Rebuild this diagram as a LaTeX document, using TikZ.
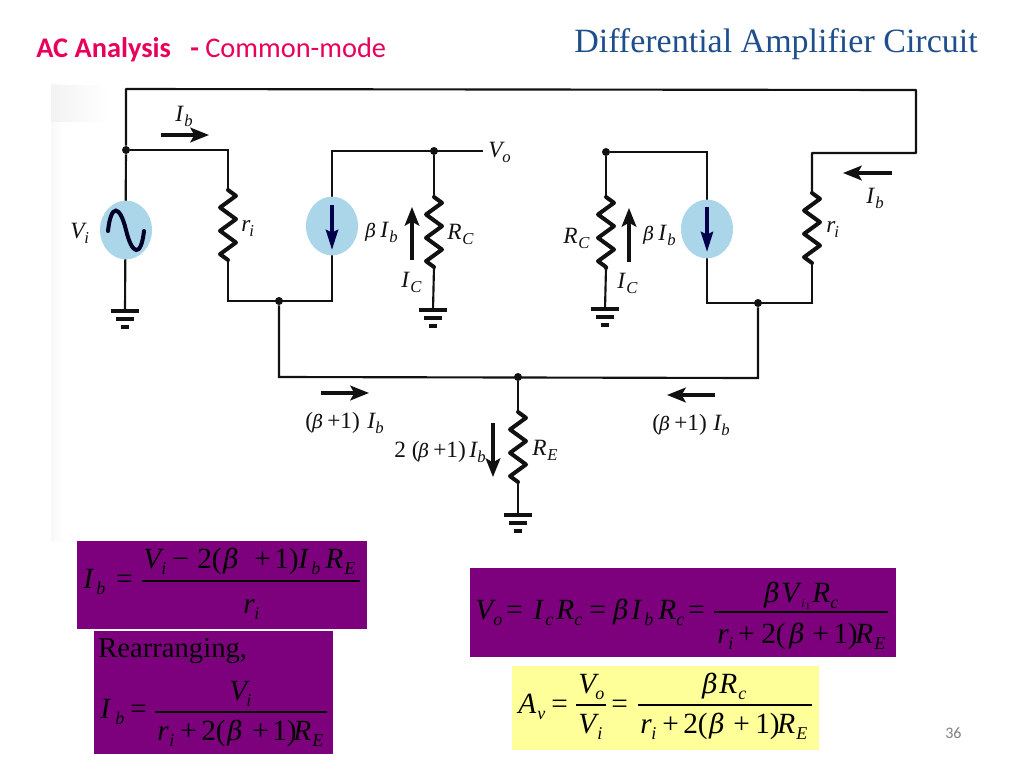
\documentclass[tikz,border=0pt]{standalone}
\usepackage{fontspec}
\setmainfont{Liberation Serif}
\newfontfamily\carl{Carlito}
\newfontfamily\betaf{DejaVu Serif}
\usetikzlibrary{arrows.meta,shapes.geometric,decorations.pathmorphing,calc}
\definecolor{purp}{HTML}{7D007D}
\definecolor{yel}{HTML}{FFFF99}
\definecolor{ink}{HTML}{111111}
\definecolor{srcblue}{HTML}{ABD6EA}
\definecolor{ttl}{HTML}{1F4E8C}
\definecolor{pinktxt}{HTML}{E8005A}
\newcounter{tn}
\newcommand{\T}[4]{\stepcounter{tn}\node[txt,font={\fontsize{#1}{#1}\selectfont}] (t\thetn) at (#2,#3) {#4};}
\newcommand{\TK}[4]{\stepcounter{tn}\node[txt,text=black,font={\fontsize{#1}{#1}\selectfont}] (t\thetn) at (#2,#3) {#4};}
\newcommand{\B}[3]{\TK{22}{#1}{#2}{#3}}
\newcommand{\BI}[3]{\TK{22}{#1}{#2}{\itshape #3}}
\newcommand{\Bb}[2]{\TK{20}{#1}{#2}{\betaf\itshape β}}
\newcommand{\Sb}[3]{\TK{13.5}{#1}{#2}{\itshape #3}}
\newcommand{\C}[3]{\T{17.5}{#1}{#2}{\itshape #3}}
\newcommand{\CB}[2]{\T{14}{#1}{#2}{\betaf\itshape β}}
\newcommand{\CS}[3]{\T{12.5}{#1}{#2}{\itshape #3}}
\newcommand{\CU}[3]{\T{17.5}{#1}{#2}{#3}}
\newcommand{\gnd}[1]{%
 \draw[gbar] ($(#1)+(-14,0)$) -- ($(#1)+(14,0)$);
 \draw[gbar] ($(#1)+(-9,8)$) -- ($(#1)+(9,8)$);
 \draw[gbar] ($(#1)+(-4,16)$) -- ($(#1)+(4,16)$);}
\tikzset{
 x=0.75pt,y=-0.75pt,
 txt/.style={anchor=base west,inner sep=0pt,text=ink},
 wire/.style={draw=ink,line width=1.6pt},
 gbar/.style={draw=ink,line width=2.6pt},
 resist/.style={draw=ink,line width=3pt,line join=round,line cap=round,decorate,
   decoration={zigzag,segment length=17.5pt,amplitude=6pt}},
 dotn/.style={circle,fill=ink,inner sep=0pt,minimum size=6pt},
 src/.style={ellipse,fill=srcblue,inner sep=0pt,minimum width=39pt,minimum height=44pt},
 curr/.style={draw=ink,line width=2.4pt,-{Stealth[length=14pt,width=11pt,inset=3pt]}},
 srcarr/.style={draw=black!70!blue,line width=3pt,-{Stealth[length=15pt,width=9pt,inset=2pt]}},
 fr/.style={draw=black,line width=0.9pt},
 purpbox/.style={fill=purp},
 yelbox/.style={fill=yel},
}
\begin{document}
\begin{tikzpicture}
\useasboundingbox (0,0) rectangle (1024,768);
\fill[white] (0,0) rectangle (1024,768);
% faint scan background
\shade[left color=black!2.5,right color=white] (51,83) rectangle (64,541);
\shade[left color=black!5,right color=white] (51,85) rectangle (108,121);
% title
\node[anchor=base west,inner sep=0pt,text=ttl,font={\fontsize{25.5}{28}\selectfont}] (title) at (574,52) {Differential Amplifier Circuit};
\node[anchor=base west,inner sep=0pt,text=pinktxt,font={\carl\fontsize{21.3}{24}\selectfont}] (sub) at (36,57) {\textbf{AC Analysis\ \ \ -} Common-mode};
\node[anchor=base west,inner sep=0pt,text=black!50,font={\carl\fontsize{12}{14}\selectfont}] (pg) at (945,738) {36};
% coordinates
\coordinate (tl) at (126,89);
\coordinate (tr) at (916,90);
\coordinate (rr) at (916,153);
\coordinate (rt) at (812,153);
\node[dotn] (d1) at (126,150) {};
\coordinate (r1t) at (228,150);
\coordinate (r1a) at (228,190);
\coordinate (r1b) at (228,260);
\coordinate (r1e) at (228,301);
\node[dotn] (d2) at (279,301) {};
\coordinate (s1b) at (332,301);
\coordinate (s1t) at (332,151);
\node[dotn] (d3) at (434,151) {};
\coordinate (vo) at (483,151);
\coordinate (rc1a) at (434,197);
\coordinate (rc1b) at (434,267);
\coordinate (g2) at (433,310);
\coordinate (g1) at (125,311);
\node[dotn] (d4) at (606,152) {};
\coordinate (rc2a) at (606,197);
\coordinate (rc2b) at (606,268);
\coordinate (g3) at (605,309);
\coordinate (s2t) at (707,152);
\coordinate (s2b) at (707,303);
\coordinate (r2a) at (812,193);
\coordinate (r2b) at (812,263);
\coordinate (r2e) at (812,303);
\node[dotn] (d5) at (758,303) {};
\node[dotn] (d6) at (518,377) {};
\coordinate (bl) at (279,377);
\coordinate (br) at (758,378);
\coordinate (rea) at (518,412);
\coordinate (reb) at (518,482);
\coordinate (g4) at (518,515);
% wires
\draw[wire,line join=round] (d1) -- (tl) -- (tr) -- (rr) -- (rt) -- (r2a);
\draw[wire] (d1) -- (r1t) -- (r1a);
\draw[wire] (r1b) -- (r1e) -- (s1b) -- (s1t) -- (vo);
\draw[wire] (d3) -- (rc1a);
\draw[wire] (rc1b) -- (g2);
\draw[wire] (d4) -- (rc2a);
\draw[wire] (rc2b) -- (g3);
\draw[wire] (d4) -- (s2t) -- (s2b) -- (r2e) -- (r2b);
\draw[wire] (d2) -- (bl) -- (br) -- (d5);
\draw[wire] (d6) -- (rea);
\draw[wire] (reb) -- (g4);
\draw[wire] (d1) -- (g1);
% resistors
\draw[resist] (r1a) -- (r1b);
\draw[resist] (rc1a) -- (rc1b);
\draw[resist] (rc2a) -- (rc2b);
\draw[resist] (r2a) -- (r2b);
\draw[resist] (rea) -- (reb);
% grounds
\gnd{g1}\gnd{g2}\gnd{g3}\gnd{g4}
% sources
\node[src] (vi) at (126,230) {};
\node[src] (s1) at (332,226) {};
\node[src] (s2) at (707,229) {};
\coordinate (s1at) at (332,205);
\coordinate (s1ab) at (332,250);
\coordinate (s2at) at (707,207);
\coordinate (s2ab) at (707,252);
\draw[srcarr] (s1at) -- (s1ab);
\draw[srcarr] (s2at) -- (s2ab);
\coordinate (sa) at (108,231);
\coordinate (sb) at (126,230);
\coordinate (sc) at (144,231);
\draw[draw=black!85!blue,line width=3pt,line cap=round] (sa) .. controls (111,203) and (120,205) .. (sb) .. controls (132,255) and (141,258) .. (sc);
% current arrows
\coordinate (a1s) at (161,135); \coordinate (a1e) at (209,135);
\coordinate (a2s) at (892,173); \coordinate (a2e) at (843,173);
\coordinate (a3s) at (412,260); \coordinate (a3e) at (412,207);
\coordinate (a4s) at (629,262); \coordinate (a4e) at (629,208);
\coordinate (a5s) at (321,393); \coordinate (a5e) at (369,393);
\coordinate (a6s) at (715,395); \coordinate (a6e) at (667,395);
\coordinate (a7s) at (493,423); \coordinate (a7e) at (493,477);
\draw[curr] (a1s) -- (a1e);
\draw[curr] (a2s) -- (a2e);
\draw[curr] (a3s) -- (a3e);
\draw[curr] (a4s) -- (a4e);
\draw[curr] (a5s) -- (a5e);
\draw[curr] (a6s) -- (a6e);
\draw[curr] (a7s) -- (a7e);
% circuit labels
\C{175}{121}{I}\CS{184}{126}{b}
\C{488}{157}{V}\CS{502}{162}{o}
\C{70}{238}{V}\CS{84}{243}{i}
\C{241}{231}{r}\CS{249}{236}{i}
\CB{365}{237}\C{380}{237}{I}\CS{389}{242}{b}
\C{447}{239}{R}\CS{462}{244}{C}
\C{401}{287}{I}\CS{410}{292}{C}
\C{563}{243}{R}\CS{578}{248}{C}
\CB{643}{240}\C{658}{240}{I}\CS{667}{245}{b}
\C{617}{288}{I}\CS{626}{293}{C}
\C{826}{232}{r}\CS{834}{237}{i}
\C{866}{203}{I}\CS{875}{208}{b}
\CU{305}{428}{(}\CB{312}{428}\CU{327}{428}{+1)}\C{367}{428}{I}\CS{375}{433}{b}
\CU{652}{430}{(}\CB{659}{430}\CU{674}{430}{+1)}\C{713}{430}{I}\CS{721}{435}{b}
\CU{394}{457}{2 (}\CB{418}{457}\CU{433}{457}{+1)}\C{469}{457}{I}\CS{477}{462}{b}
\C{532}{455}{R}\CS{547}{460}{E}
% boxes
\node[purpbox,anchor=north west,minimum width=217.5pt,minimum height=66pt,inner sep=0pt] (b1) at (77,541) {};
\node[purpbox,anchor=north west,minimum width=179.25pt,minimum height=92.25pt,inner sep=0pt] (b2) at (94,631) {};
\node[purpbox,anchor=north west,minimum width=319.5pt,minimum height=66.75pt,inner sep=0pt] (b3) at (470,568) {};
\node[yelbox,anchor=north west,minimum width=230.25pt,minimum height=63pt,inner sep=0pt] (b4) at (512,666) {};
% eq 1
\BI{83}{588}{I}\Sb{96}{594}{b}\B{116}{588}{=}
\BI{143}{568}{V}\Sb{161}{574}{i}\B{172}{568}{−}\B{197}{568}{2(}\Bb{223}{568}\B{254}{568}{+}\B{274}{568}{1)}\BI{298}{568}{I}\Sb{311}{574}{b}\BI{325}{568}{R}\Sb{344}{574}{E}
\coordinate (f1a) at (142,581); \coordinate (f1b) at (360,581);
\draw[fr] (f1a) -- (f1b);
\BI{243}{613}{r}\Sb{254}{619}{i}
% eq 2
\TK{21.5}{98}{657}{Rearranging,}
\BI{100}{718}{I}\Sb{115}{724}{b}\B{130}{718}{=}
\BI{229}{700}{V}\Sb{246}{706}{i}
\coordinate (f2a) at (155,712); \coordinate (f2b) at (327,712);
\draw[fr] (f2a) -- (f2b);
\BI{157}{740}{r}\Sb{169}{746}{i}\B{180}{740}{+}\B{201}{740}{2(}\Bb{227}{740}\B{252}{740}{+}\B{272}{740}{1)}\BI{293}{740}{R}\Sb{312}{746}{E}
% eq 3
\BI{475}{619}{V}\Sb{493}{625}{o}\B{506}{619}{=}\BI{533}{619}{I}\Sb{545}{625}{c}\BI{556}{619}{R}\Sb{574}{625}{c}\B{589}{619}{=}\Bb{613}{619}\BI{631}{619}{I}\Sb{644}{625}{b}\BI{658}{619}{R}\Sb{676}{625}{c}\B{688}{619}{=}
\Bb{764}{602}\BI{781}{602}{V}\Sb{801}{607}{\fontsize{9}{9}\selectfont i}\TK{7.5}{805}{609}{1}\BI{812}{602}{R}\Sb{830}{608}{c}
\coordinate (f3a) at (714,612); \coordinate (f3b) at (888,612);
\draw[fr] (f3a) -- (f3b);
\BI{717}{643}{r}\Sb{728}{649}{i}\B{738}{643}{+}\B{761}{643}{2(}\Bb{789}{643}\B{812}{643}{+}\B{833}{643}{1)}\BI{855}{643}{R}\Sb{874}{649}{E}
% eq 4
\BI{518}{713}{A}\Sb{537}{719}{v}\B{551}{713}{=}
\BI{578}{693}{V}\Sb{595}{699}{o}
\coordinate (f4a) at (576,705); \coordinate (f4b) at (606,705);
\draw[fr] (f4a) -- (f4b);
\BI{578}{733}{V}\Sb{597}{739}{i}
\B{611}{713}{=}
\Bb{702}{693}\BI{719}{693}{R}\Sb{738}{699}{c}
\coordinate (f5a) at (638,705); \coordinate (f5b) at (812,705);
\draw[fr] (f5a) -- (f5b);
\BI{640}{733}{r}\Sb{651}{739}{i}\B{662}{733}{+}\B{683}{733}{2(}\Bb{709}{733}\B{733}{733}{+}\B{755}{733}{1)}\BI{777}{733}{R}\Sb{796}{739}{E}
\end{tikzpicture}
\end{document}
